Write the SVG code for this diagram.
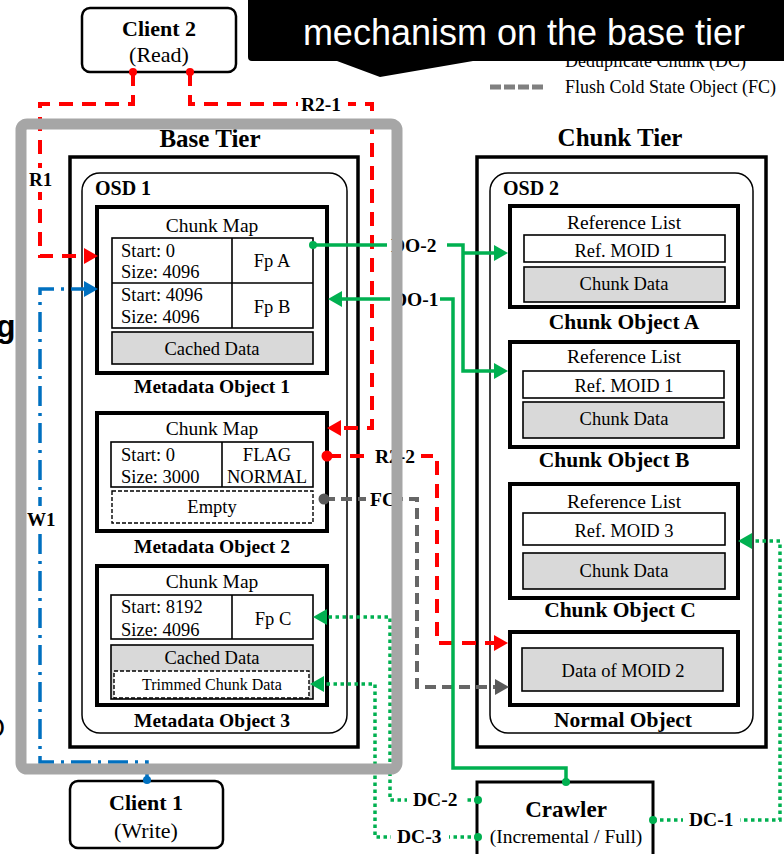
<svg xmlns="http://www.w3.org/2000/svg" width="784" height="854" viewBox="0 0 784 854">
<style>
text{font-family:"Liberation Serif","Times New Roman",serif;fill:#000}
.c{text-anchor:middle}
.b{font-weight:bold}
.t{font-size:18.5px}
.h{font-size:19.5px}
.ml{font-size:19.5px;font-weight:bold;text-anchor:middle}
.cl{font-size:21.5px;font-weight:bold;text-anchor:middle}
.lb{font-size:19.5px;font-weight:bold}
.obj{fill:#fff;stroke:#000;stroke-width:4}
.thin{fill:#fff;stroke:#000;stroke-width:1.6}
.gray{fill:#d9d9d9;stroke:#000;stroke-width:1.6}
.dash{fill:#fff;stroke:#000;stroke-width:1.4;stroke-dasharray:4 2}
.tier{fill:none;stroke:#000;stroke-width:3.5}
.osd{fill:none;stroke:#000;stroke-width:1.5}
.red{fill:none;stroke:#ff0000;stroke-width:4;stroke-dasharray:14 9}
.blue{fill:none;stroke:#0070c0;stroke-width:3.5;stroke-dasharray:20 7 3 7}
.grn{fill:none;stroke:#00b050;stroke-width:3.5}
.gdot{fill:none;stroke:#00b050;stroke-width:3.5;stroke-dasharray:3.5 3.5}
.fc{fill:none;stroke:#666;stroke-width:4;stroke-dasharray:11 6}
.bg{fill:#fff}
.sans{font-family:"Liberation Sans",Arial,sans-serif}
</style>
<defs>
<marker id="aR" viewBox="0 0 14 16" refX="4" refY="8" markerWidth="14" markerHeight="16" markerUnits="userSpaceOnUse" orient="auto"><path d="M0,0 L14,8 L0,16 z" fill="#ff0000"/></marker>
<marker id="aB" viewBox="0 0 14 16" refX="4" refY="8" markerWidth="14" markerHeight="16" markerUnits="userSpaceOnUse" orient="auto"><path d="M0,0 L14,8 L0,16 z" fill="#0070c0"/></marker>
<marker id="aG" viewBox="0 0 14 16" refX="4" refY="8" markerWidth="14" markerHeight="16" markerUnits="userSpaceOnUse" orient="auto"><path d="M0,0 L14,8 L0,16 z" fill="#00b050"/></marker>
<marker id="aK" viewBox="0 0 14 16" refX="4" refY="8" markerWidth="14" markerHeight="16" markerUnits="userSpaceOnUse" orient="auto"><path d="M0,0 L14,8 L0,16 z" fill="#595959"/></marker>
</defs>
<rect width="784" height="854" fill="#fff"/>

<g id="base-tier">
<text x="210" y="147" class="c b" font-size="25">Base Tier</text>
<rect x="70" y="157" width="288" height="590" class="tier"/>
<rect x="82" y="173" width="265" height="560" rx="18" class="osd"/>
<text x="95" y="195" class="b" font-size="20">OSD 1</text>
</g>

<g id="metadata-object-1">
<rect x="97" y="207" width="230" height="166" class="obj"/>
<text x="212" y="232" class="c h">Chunk Map</text>
<rect x="112" y="238" width="201" height="90" class="thin"/>
<path d="M112,283 H313 M232,238 V328" stroke="#000" stroke-width="1.6"/>
<text x="121" y="257" class="t">Start: 0</text>
<text x="121" y="278" class="t">Size: 4096</text>
<text x="272" y="267" class="c t">Fp A</text>
<text x="121" y="301" class="t">Start: 4096</text>
<text x="121" y="323" class="t">Size: 4096</text>
<text x="272" y="313" class="c t">Fp B</text>
<rect x="112" y="332" width="201" height="32" class="gray"/>
<text x="212" y="355" class="c t">Cached Data</text>
<text x="212" y="393" class="ml">Metadata Object 1</text>
</g>

<g id="metadata-object-2">
<rect x="97" y="413" width="230" height="118" class="obj"/>
<text x="212" y="435" class="c h">Chunk Map</text>
<rect x="111" y="442" width="202" height="45" class="thin"/>
<path d="M222,442 V487" stroke="#000" stroke-width="1.6"/>
<text x="121" y="461" class="t">Start: 0</text>
<text x="121" y="483" class="t">Size: 3000</text>
<text x="267" y="461" class="c t">FLAG</text>
<text x="267" y="483" class="c t">NORMAL</text>
<rect x="112" y="491" width="201" height="32" class="dash"/>
<text x="212" y="513" class="c t">Empty</text>
<text x="212" y="553" class="ml">Metadata Object 2</text>
</g>

<g id="metadata-object-3">
<rect x="97" y="566" width="230" height="139" class="obj"/>
<text x="212" y="588" class="c h">Chunk Map</text>
<rect x="111" y="595" width="202" height="44" class="thin"/>
<path d="M232,595 V639" stroke="#000" stroke-width="1.6"/>
<text x="121" y="613" class="t">Start: 8192</text>
<text x="121" y="636" class="t">Size: 4096</text>
<text x="273" y="625" class="c t">Fp C</text>
<rect x="111" y="645" width="202" height="54" class="gray"/>
<text x="212" y="664" class="c t">Cached Data</text>
<rect x="114" y="671" width="195" height="27" class="dash"/>
<text x="212" y="690" class="c" font-size="16">Trimmed Chunk Data</text>
<text x="212" y="727" class="ml">Metadata Object 3</text>
</g>

<g id="chunk-tier">
<text x="620" y="146" class="c b" font-size="25">Chunk Tier</text>
<rect x="477" y="157" width="289" height="590" class="tier"/>
<rect x="490" y="173" width="263" height="560" rx="18" class="osd"/>
<text x="503" y="195" class="b" font-size="20">OSD 2</text>
</g>

<g id="chunk-object-a">
<rect x="510" y="206" width="228" height="101" class="obj"/>
<text x="624" y="229" class="c h">Reference List</text>
<rect x="524" y="235" width="201" height="27" class="thin"/>
<text x="624" y="257" class="c t">Ref. MOID 1</text>
<rect x="524" y="267" width="201" height="35" class="gray"/>
<text x="624" y="290" class="c t">Chunk Data</text>
<text x="624" y="329" class="cl">Chunk Object A</text>
</g>

<g id="chunk-object-b">
<rect x="510" y="342" width="228" height="105" class="obj"/>
<text x="624" y="363" class="c h">Reference List</text>
<rect x="523" y="371" width="201" height="27" class="thin"/>
<text x="624" y="392" class="c t">Ref. MOID 1</text>
<rect x="523" y="402" width="201" height="36" class="gray"/>
<text x="624" y="425" class="c t">Chunk Data</text>
<text x="614" y="467" class="cl">Chunk Object B</text>
</g>

<g id="chunk-object-c">
<rect x="510" y="484" width="228" height="114" class="obj"/>
<text x="624" y="508" class="c h">Reference List</text>
<rect x="523" y="513" width="202" height="32" class="thin"/>
<text x="624" y="537" class="c t">Ref. MOID 3</text>
<rect x="523" y="553" width="202" height="36" class="gray"/>
<text x="624" y="577" class="c t">Chunk Data</text>
<text x="620" y="617" class="cl">Chunk Object C</text>
</g>

<g id="normal-object">
<rect x="510" y="632" width="228" height="73" class="obj"/>
<rect x="522" y="648" width="201" height="43" class="gray"/>
<text x="623" y="677" class="c t">Data of MOID 2</text>
<text x="623" y="727" class="cl">Normal Object</text>
</g>

<g id="client-2">
<rect x="82" y="8" width="154" height="64" rx="8" fill="#fff" stroke="#000" stroke-width="2.5"/>
<text x="159" y="36" class="c b" font-size="22">Client 2</text>
<text x="159" y="62" class="c" font-size="22">(Read)</text>
</g>

<g id="client-1">
<rect x="70" y="781" width="153" height="67" rx="8" fill="#fff" stroke="#000" stroke-width="2.5"/>
<text x="146" y="810" class="c b" font-size="22">Client 1</text>
<text x="146" y="838" class="c" font-size="22">(Write)</text>
</g>

<g id="crawler">
<rect x="477" y="782" width="176" height="80" fill="#fff" stroke="#000" stroke-width="3"/>
<text x="566" y="817" class="c b" font-size="23">Crawler</text>
<text x="566" y="843" class="c" font-size="19.5">(Incremental / Full)</text>
</g>

<g id="connectors">
<path d="M133,72 V104 H40 V256 H88" class="red" marker-end="url(#aR)"/>
<rect x="28" y="168" width="26" height="24" class="bg"/>
<text x="29" y="186" class="b" font-size="19">R1</text>
<path d="M190,72 V104 H372 V428 H337" class="red" marker-end="url(#aR)"/>
<rect x="298" y="95" width="50" height="20" class="bg"/>
<text x="301" y="111" class="lb">R2-1</text>
<path d="M327,456 H437 V643 H498" class="red" marker-end="url(#aR)"/>
<rect x="371" y="445" width="50" height="22" class="bg"/>
<text x="375" y="463" class="lb">R2-2</text>
<path d="M147,780 V762 H40 V289 H88" class="blue" marker-end="url(#aB)"/>
<rect x="26" y="506" width="30" height="26" class="bg"/>
<text x="27" y="526" class="b" font-size="19">W1</text>
<path d="M324,499 H417 V687 H499" class="fc" marker-end="url(#aK)"/>
<rect x="366" y="487" width="34" height="24" class="bg"/>
<text x="370" y="506" class="lb">FC</text>
<path d="M313,245 H463 V371 H498" class="grn" marker-end="url(#aG)"/>
<path d="M463,253 H498" class="grn" marker-end="url(#aG)"/>
<rect x="387" y="233" width="60" height="24" class="bg"/>
<text x="391" y="252" class="lb">DO-2</text>
<path d="M566,782 V768 H453 V299 H338" class="grn" marker-end="url(#aG)"/>
<rect x="390" y="287" width="50" height="24" class="bg"/>
<text x="393" y="306" class="lb">DO-1</text>
<path d="M653,820 H780 V541 H748" class="gdot" marker-end="url(#aG)"/>
<rect x="683" y="807" width="57" height="24" class="bg"/>
<text x="689" y="826" class="lb">DC-1</text>
<path d="M478,800 H390 V617 H323" class="gdot" marker-end="url(#aG)"/>
<rect x="407" y="787" width="58" height="24" class="bg"/>
<text x="413" y="806" class="lb">DC-2</text>
<path d="M478,837 H375 V684 H320" class="gdot" marker-end="url(#aG)"/>
<rect x="391" y="824" width="58" height="24" class="bg"/>
<text x="397" y="843" class="lb">DC-3</text>
<g fill="#ff0000"><circle cx="133" cy="72" r="4"/><circle cx="190" cy="72" r="4"/><circle cx="327" cy="456" r="5.5"/></g>
<circle cx="147" cy="780" r="4" fill="#0070c0"/>
<circle cx="324" cy="499" r="5.5" fill="#595959"/>
<g fill="#00b050"><circle cx="313" cy="245" r="4"/><circle cx="566" cy="782" r="4"/><circle cx="478" cy="800" r="4"/><circle cx="478" cy="837" r="4"/><circle cx="653" cy="820" r="4"/></g>
</g>

<g id="base-tier-frame">
<rect x="21" y="124" width="376" height="645" rx="6" fill="none" stroke="#a6a6a6" stroke-width="11"/>
</g>

<g id="legend">
<text x="565" y="67" font-size="18">Deduplicate Chunk (DC)</text>
<path d="M490,87 H546" stroke="#808080" stroke-width="5" stroke-dasharray="11 3"/>
<text x="565" y="93" font-size="18">Flush Cold State Object (FC)</text>
</g>

<g id="caption">
<path d="M248,-5 H790 V61 H473 L380,77 L337,61 H252 Q248,61 248,57 Z" fill="#000"/>
<text x="524" y="45" text-anchor="middle" class="sans" font-size="36" style="fill:#fff">mechanism on the base tier</text>
</g>

<g id="edge-fragments">
<text x="-4" y="337" class="sans" font-size="32" font-weight="bold">g</text>
<text x="-16" y="737" class="sans" font-size="27">O</text>
</g>
</svg>
